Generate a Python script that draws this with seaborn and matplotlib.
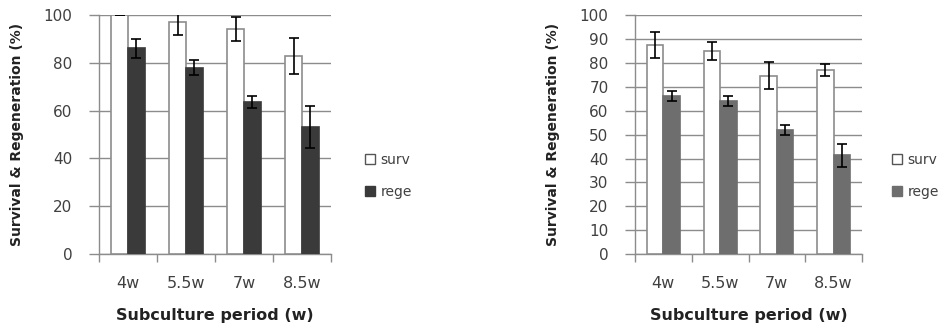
import numpy as np
import pandas as pd
import matplotlib
matplotlib.use("Agg")
import matplotlib.pyplot as plt
import seaborn as sns
from matplotlib.patches import Patch

periods = ["4w", "5.5w", "7w", "8.5w"]
series = ["surv", "rege"]

left_surv = [100, 97, 94, 83]
left_surv_err = [0, 5.5, 5.0, 7.5]
left_rege = [86, 78, 63.5, 53]
left_rege_err = [4, 3.3, 2.5, 8.8]

right_surv = [87.5, 85.2, 74.8, 77]
right_surv_err = [5.4, 3.8, 5.6, 2.5]
right_rege = [66.3, 64.2, 52, 41.3]
right_rege_err = [2, 2, 2, 5]

left_yticks = [0, 20, 40, 60, 80, 100]
right_yticks = [0, 10, 20, 30, 40, 50, 60, 70, 80, 90, 100]

xlabel = "Subculture period (w)"
ylabel = "Survival & Regeneration (%)"

sns.set_theme(style="white")
plt.rcParams["font.family"] = ["DejaVu Sans"]

GRID = "#8c8c8c"
TXT = "#404040"

fig = plt.figure(figsize=(9.48, 3.32), dpi=100)
ax1 = fig.add_axes([99 / 948, 78 / 332, 232 / 948, 239 / 332])
ax2 = fig.add_axes([635 / 948, 78 / 332, 227 / 948, 238.6 / 332])


def draw(ax, surv, surv_err, rege, rege_err, yticks, dark, legend_x):
    df = pd.DataFrame({
        "period": periods * 2,
        "series": ["surv"] * 4 + ["rege"] * 4,
        "value": list(surv) + list(rege),
        "err": list(surv_err) + list(rege_err),
    })
    sns.barplot(data=df, x="period", y="value", hue="series", order=periods,
                hue_order=series, palette={"surv": "white", "rege": dark},
                width=0.58, gap=0, errorbar=None, ax=ax, legend=False,
                linewidth=1.2, zorder=3)
    bars = [p for p in ax.patches if p.get_height() > 0]
    for p in bars:
        fc = p.get_facecolor()
        if fc[0] > 0.9:
            p.set_edgecolor(GRID)
        else:
            p.set_edgecolor(dark)
    xs = [p.get_x() + p.get_width() / 2 for p in bars]
    hs = [p.get_height() for p in bars]
    errs = df["err"].tolist()
    ax.errorbar(xs, hs, yerr=errs, fmt="none", ecolor="black",
                elinewidth=1.2, capsize=3.6, capthick=1.2, zorder=4,
                clip_on=True)
    ax.set_ylim(0, 100)
    ax.set_xlim(-0.5, 3.5)
    ax.set_yticks(yticks)
    ax.yaxis.grid(True, color=GRID, linewidth=1.0, zorder=0)
    ax.set_axisbelow(True)
    for s in ["top", "right"]:
        ax.spines[s].set_visible(False)
    for s in ["left", "bottom"]:
        ax.spines[s].set_color(GRID)
        ax.spines[s].set_linewidth(1.0)
    ax.set_xticks(range(4))
    ax.set_xticklabels(periods)
    ax.set_xticks(np.arange(-0.5, 4.0, 1.0), minor=True)
    ax.tick_params(axis="x", which="major", length=0, pad=16, labelsize=11.5,
                   labelcolor=TXT)
    ax.tick_params(axis="x", which="minor", length=6, width=1.0, color=GRID,
                   direction="out", bottom=True)
    ax.tick_params(axis="y", which="major", length=7, width=1.0, color=GRID,
                   direction="out", left=True, pad=12, labelsize=11,
                   labelcolor=TXT)
    ax.set_xlabel(xlabel, fontsize=11.5, fontweight="bold", labelpad=12,
                  color="#222222")
    ax.set_ylabel(ylabel, fontsize=10, fontweight="bold", labelpad=14,
                  color="#222222")
    handles = [Patch(facecolor="white", edgecolor="#555555", linewidth=1.0),
               Patch(facecolor=dark, edgecolor=dark)]
    fig.legend(handles, series, loc="center left",
               bbox_to_anchor=(legend_x, 1 - 176 / 332), frameon=False,
               handlelength=0.75, handleheight=0.75, handletextpad=0.4,
               labelspacing=1.3, fontsize=10, labelcolor=TXT)


draw(ax1, left_surv, left_surv_err, left_rege, left_rege_err, left_yticks,
     "#3a3a3a", 352 / 948)
draw(ax2, right_surv, right_surv_err, right_rege, right_rege_err, right_yticks,
     "#6e6e6e", 879 / 948)

fig.savefig("out.png", dpi=100)
